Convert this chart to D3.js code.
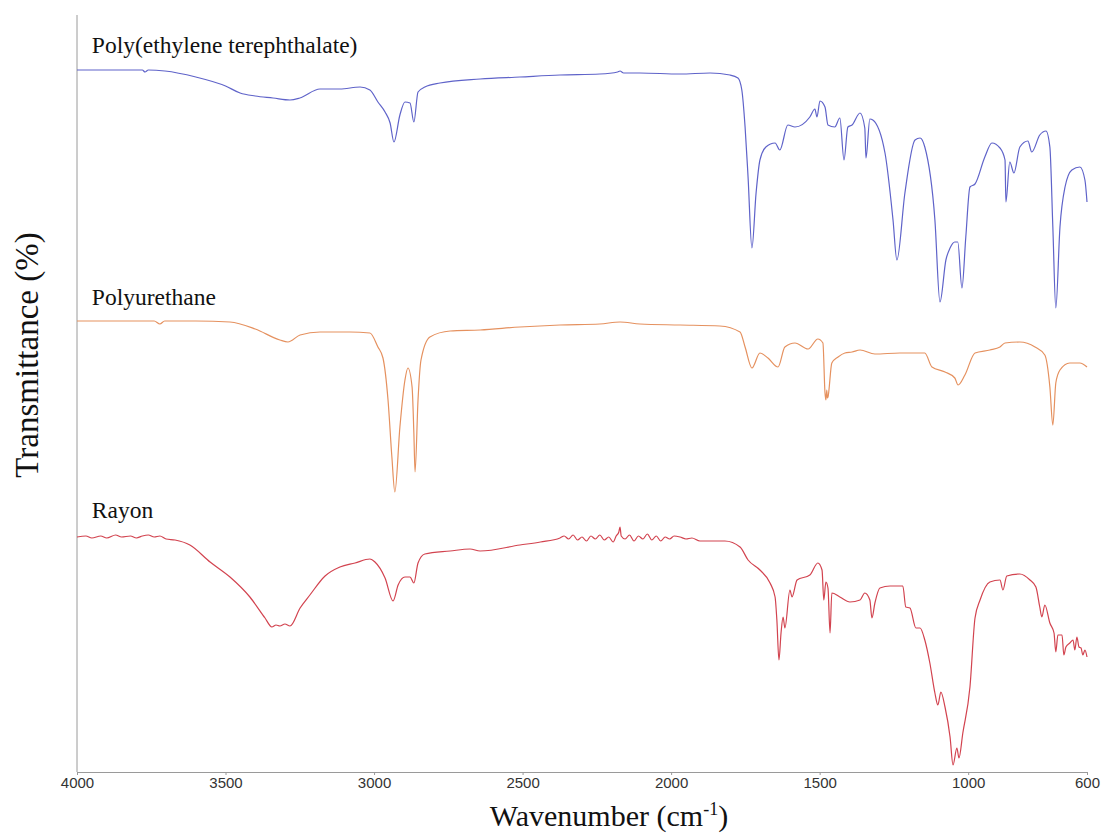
<!DOCTYPE html>
<html lang="en">
<meta charset="utf-8">
<head>
    <script src="https://d3js.org/d3.v7.min.js"></script>
    <style>
        body { margin: 0; background: #fff; }
    </style>
</head>
<body>
<script>
// FTIR spectra, [wavenumber (cm-1), offset transmittance (a.u.)]
const pet = [
    [4000, 702], [3900, 702], [3780, 702], [3771, 700], [3760, 702], [3704, 701],
    [3600, 695], [3500, 686], [3451, 679], [3400, 676], [3340, 674], [3283, 672],
    [3250, 674], [3182, 683], [3115, 683], [3047, 685], [3014, 682], [2987, 670],
    [2963, 660], [2946, 649], [2933, 630], [2913, 657], [2896, 670], [2879, 669],
    [2866, 650], [2852, 680], [2829, 685], [2778, 689], [2643, 693], [2509, 695],
    [2374, 697], [2240, 698], [2180, 700], [2172, 701], [2160, 699], [2105, 699],
    [1970, 698], [1869, 699], [1802, 697], [1775, 694], [1762, 682], [1751, 645],
    [1741, 595], [1728, 524], [1714, 579], [1701, 612], [1681, 625], [1650, 629],
    [1634, 622], [1607, 647], [1583, 645], [1533, 655], [1516, 663], [1509, 655],
    [1499, 671], [1482, 665], [1472, 647], [1449, 645], [1432, 654], [1418, 612],
    [1405, 645], [1391, 647], [1364, 659], [1348, 644], [1344, 614], [1331, 653],
    [1321, 652], [1280, 619], [1253, 552], [1240, 512], [1213, 579], [1179, 632],
    [1162, 634], [1146, 625], [1112, 552], [1095, 470], [1075, 512], [1061, 524],
    [1045, 530], [1035, 530], [1021, 484], [1008, 535], [994, 585], [977, 588],
    [944, 615], [920, 629], [893, 624], [876, 612], [873, 570], [860, 610],
    [846, 599], [826, 625], [799, 631], [786, 620], [759, 637], [738, 641],
    [725, 625], [715, 545], [705, 464], [691, 545], [674, 585], [651, 602],
    [624, 605], [607, 592], [600, 570]
];

const pu = [
    [4000, 451], [3900, 451], [3800, 451], [3740, 451], [3721, 448], [3705, 451],
    [3600, 451], [3485, 450], [3400, 443], [3317, 432], [3290, 430], [3249, 437],
    [3182, 440], [3081, 440], [3014, 439], [2987, 425], [2970, 414], [2953, 372],
    [2940, 315], [2930, 280], [2913, 345], [2896, 392], [2886, 404], [2872, 385],
    [2866, 339], [2862, 300], [2852, 372], [2842, 412], [2812, 435], [2744, 441],
    [2643, 442], [2509, 445], [2374, 447], [2240, 448], [2172, 450], [2105, 448],
    [1970, 447], [1836, 446], [1768, 440], [1751, 425], [1728, 404], [1701, 419],
    [1674, 414], [1640, 405], [1617, 425], [1583, 429], [1539, 423], [1506, 433],
    [1489, 429], [1482, 379], [1479, 372], [1476, 382], [1474, 374], [1472, 375],
    [1459, 409], [1438, 415], [1415, 419], [1391, 420], [1364, 422], [1314, 418],
    [1230, 419], [1146, 419], [1122, 405], [1078, 400], [1045, 394], [1034, 387],
    [1011, 397], [977, 419], [927, 422], [893, 425], [876, 429], [826, 430],
    [775, 425], [742, 417], [725, 385], [715, 347], [705, 389], [691, 402],
    [658, 409], [624, 409], [600, 405]
];

const rayon = [
    [4000, 235], [3970, 236], [3950, 234], [3920, 236], [3900, 234], [3870, 237],
    [3850, 235], [3820, 236], [3800, 234], [3780, 236], [3760, 237], [3740, 235],
    [3721, 236], [3700, 233], [3670, 232], [3620, 227], [3552, 210], [3485, 195],
    [3418, 175], [3367, 154], [3344, 145], [3330, 147], [3317, 146], [3300, 148],
    [3283, 146], [3249, 164], [3216, 177], [3165, 196], [3115, 205], [3064, 209],
    [3014, 213], [2997, 210], [2963, 194], [2936, 171], [2919, 187], [2896, 195],
    [2879, 195], [2866, 189], [2852, 209], [2829, 218], [2744, 221], [2677, 223],
    [2643, 221], [2509, 227], [2440, 230], [2374, 234], [2360, 236], [2345, 233],
    [2330, 237], [2315, 232], [2300, 235], [2285, 231], [2270, 236], [2255, 233],
    [2240, 237], [2225, 232], [2210, 235], [2195, 230], [2185, 236], [2176, 240],
    [2172, 245], [2168, 236], [2155, 233], [2140, 237], [2125, 231], [2110, 236],
    [2095, 233], [2080, 238], [2065, 232], [2050, 236], [2035, 231], [2020, 235],
    [2005, 233], [1990, 236], [1970, 235], [1950, 233], [1930, 234], [1903, 231],
    [1819, 231], [1768, 225], [1741, 212], [1701, 202], [1667, 189], [1650, 175],
    [1644, 152], [1637, 112], [1630, 139], [1623, 155], [1617, 144], [1600, 182],
    [1593, 175], [1576, 192], [1533, 197], [1506, 209], [1492, 202], [1486, 172],
    [1479, 190], [1472, 184], [1465, 139], [1459, 179], [1432, 175], [1398, 170],
    [1364, 172], [1348, 179], [1331, 172], [1324, 154], [1314, 169], [1297, 184],
    [1263, 186], [1220, 186], [1210, 165], [1196, 164], [1176, 144], [1162, 144],
    [1146, 132], [1129, 109], [1112, 79], [1102, 67], [1092, 80], [1078, 65],
    [1061, 35], [1051, 7], [1038, 24], [1031, 14], [1018, 39], [994, 85],
    [977, 154], [960, 172], [927, 190], [893, 192], [883, 182], [870, 196],
    [826, 198], [792, 192], [772, 185], [759, 165], [752, 155], [742, 167],
    [725, 149], [711, 139], [705, 120], [698, 137], [684, 137], [678, 117],
    [671, 125], [658, 129], [647, 132], [641, 122], [634, 135], [627, 125],
    [620, 124], [614, 117], [607, 122], [600, 115]
];

const seriesNames = ["Poly(ethylene terephthalate)", "Polyurethane", "Rayon"];
const seriesColors = ["#5f63c9", "#e5915f", "#d2434f"];
const xTicks = [4000, 3500, 3000, 2500, 2000, 1500, 1000, 600];

const margin = {top: 17, right: 16, bottom: 63, left: 77};
const width = 1103 - margin.left - margin.right;
const height = 835 - margin.top - margin.bottom;

const svg = d3.select("body")
    .append("svg")
    .attr("width", 1103)
    .attr("height", 835);

const g = svg.append("g")
    .attr("transform", "translate(" + margin.left + "," + margin.top + ")");

const x = d3.scaleLinear()
    .domain([4000, 600])
    .range([0, width]);

const y = d3.scaleLinear()
    .domain([0, 755])
    .range([height, 0]);

// x axis
const xAxis = g.append("g")
    .attr("transform", "translate(0," + height + ")")
    .call(d3.axisBottom(x).tickValues(xTicks).tickSizeInner(3).tickSizeOuter(0).tickPadding(2)
        .tickFormat(d3.format("d")));
xAxis.select(".domain").attr("stroke", "#9a9a9a");
xAxis.selectAll(".tick line").attr("stroke", "#9a9a9a");
xAxis.selectAll(".tick text")
    .attr("font-family", "'Liberation Sans', Arial, sans-serif")
    .attr("font-size", 15)
    .attr("fill", "#333");

// y axis line only
g.append("line")
    .attr("x1", 0).attr("x2", 0)
    .attr("y1", -2).attr("y2", height)
    .attr("stroke", "#9a9a9a");

const line = d3.line()
    .curve(d3.curveMonotoneX)
    .x(function(d) { return x(d[0]); })
    .y(function(d) { return y(d[1]); });

const allSeries = [pet, pu, rayon];
const labelVals = [719, 467, 254];

allSeries.forEach(function(data, i) {
    g.append("path")
        .datum(data)
        .attr("fill", "none")
        .attr("stroke", seriesColors[i])
        .attr("stroke-width", 1.2)
        .attr("stroke-linejoin", "round")
        .attr("d", line);

    g.append("text")
        .attr("x", x(3950))
        .attr("y", y(labelVals[i]))
        .attr("font-family", "'Liberation Serif', 'Times New Roman', serif")
        .attr("font-size", 23.5)
        .attr("fill", "#111")
        .text(seriesNames[i]);
});

// axis titles
const xTitle = svg.append("text")
    .attr("x", 609)
    .attr("y", 826)
    .attr("text-anchor", "middle")
    .attr("font-family", "'Liberation Serif', 'Times New Roman', serif")
    .attr("font-size", 30)
    .attr("fill", "#111");
xTitle.append("tspan").text("Wavenumber (cm");
xTitle.append("tspan").attr("dy", -11).attr("font-size", 18).text("-1");
xTitle.append("tspan").attr("dy", 11).text(")");

svg.append("text")
    .attr("transform", "translate(38,355) rotate(-90)")
    .attr("text-anchor", "middle")
    .attr("font-family", "'Liberation Serif', 'Times New Roman', serif")
    .attr("font-size", 33)
    .attr("fill", "#111")
    .text("Transmittance (%)");
</script>
</body>
</html>
